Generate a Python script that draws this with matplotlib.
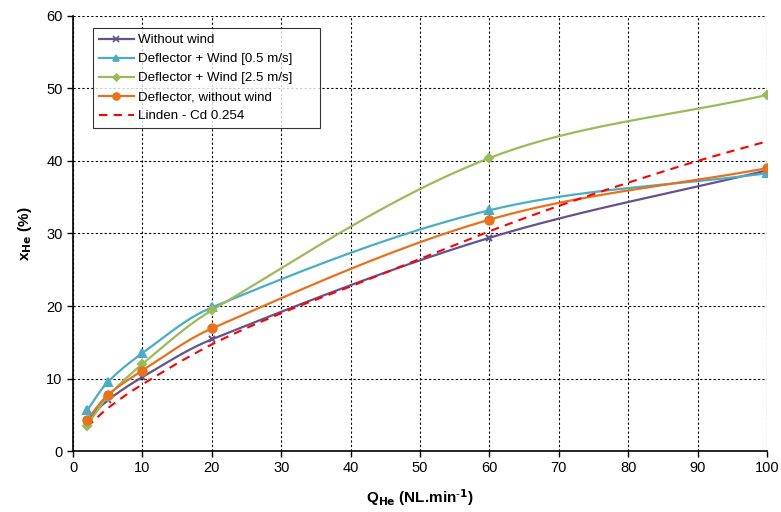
"""Helium concentration against helium flow rate, with and without a
deflector and cross wind, compared with the Linden model."""

import numpy as np
import matplotlib
matplotlib.use("Agg")
import matplotlib.pyplot as plt

# ----------------------------------------------------------------------
# Data
# ----------------------------------------------------------------------

q_measured = [2, 5, 10, 20, 60, 100]

x_without_wind = [4.3, 7.0, 10.2, 15.4, 29.4, 38.7]
x_deflector_wind_05 = [5.6, 9.5, 13.5, 19.8, 33.2, 38.3]
x_deflector_wind_25 = [3.5, 7.5, 12.0, 19.4, 40.4, 49.1]
x_deflector_no_wind = [4.3, 7.7, 11.1, 16.9, 31.9, 39.0]

q_linden = [2, 5, 10, 20, 30, 40, 50, 60, 70, 80, 90, 100]
x_linden = [3.3, 5.9, 9.2, 14.7, 19.0, 22.7, 26.5, 30.3, 33.8, 37.0, 40.0, 42.7]

labels = [
    "Without wind",
    "Deflector + Wind [0.5 m/s]",
    "Deflector + Wind [2.5 m/s]",
    "Deflector, without wind",
]

# ----------------------------------------------------------------------
# Style
# ----------------------------------------------------------------------

plt.rcParams["font.family"] = ["Liberation Sans", "DejaVu Sans"]
plt.rcParams["mathtext.default"] = "regular"

COLORS = ["#65528C", "#4BACC6", "#9BBB59", "#E8711C"]
MARKERS = ["x", "^", "D", "o"]
MARKER_SIZES = [5, 6, 4.5, 6]


def smooth_curve(xs, ys, steps=40):
    """Bezier smoothing through the points (spreadsheet style smoothed line).

    Tangent directions come from the neighbouring points, control arms are
    a third of the segment length so unevenly spaced points stay tidy."""
    pts = np.column_stack([xs, ys]).astype(float)
    n = len(pts)
    tangents = np.zeros_like(pts)
    for i in range(n):
        lo, hi = max(i - 1, 0), min(i + 1, n - 1)
        d = pts[hi] - pts[lo]
        tangents[i] = d / np.hypot(*d)
    out = []
    t = np.linspace(0, 1, steps)[:, None]
    for i in range(n - 1):
        p1, p2 = pts[i], pts[i + 1]
        arm = np.hypot(*(p2 - p1)) / 3.0
        c1 = p1 + tangents[i] * arm
        c2 = p2 - tangents[i + 1] * arm
        seg = ((1 - t) ** 3) * p1 + 3 * ((1 - t) ** 2) * t * c1 \
            + 3 * (1 - t) * t ** 2 * c2 + t ** 3 * p2
        out.append(seg if i == 0 else seg[1:])
    curve = np.vstack(out)
    return curve[:, 0], curve[:, 1]


fig = plt.figure(figsize=(7.81, 5.12), dpi=100)
ax = fig.add_axes([0.0935, 0.119, 0.8885, 0.85])

series = [x_without_wind, x_deflector_wind_05, x_deflector_wind_25, x_deflector_no_wind]
for vals, label, color, marker, ms in zip(series, labels, COLORS, MARKERS, MARKER_SIZES):
    sx, sy = smooth_curve(q_measured, vals)
    ax.plot(sx, sy, color=color, lw=1.6, zorder=3)
    ax.plot(q_measured, vals, linestyle="none", marker=marker, ms=ms,
            color=color, mew=1.5, zorder=4)
    # proxy artist for the legend entry (line + marker)
    ax.plot([], [], color=color, lw=1.6, marker=marker, ms=ms - 1, mew=1.2, label=label)

lx, ly = smooth_curve(q_linden, x_linden)
ax.plot(lx, ly, color="#FF0000", lw=1.5, linestyle=(0, (4, 3)), zorder=3,
        label="Linden - Cd 0.254")

ax.set_xlim(0, 100)
ax.set_ylim(0, 60)
ax.set_xticks(range(0, 101, 10))
ax.set_yticks(range(0, 61, 10))
ax.tick_params(labelsize=10.5, direction="out", length=4, width=1, color="black")

ax.grid(True, color="black", linestyle=(0, (2, 2)), lw=0.8)
ax.set_axisbelow(True)
for side in ["top", "right"]:
    ax.spines[side].set_visible(False)
for side in ["left", "bottom"]:
    ax.spines[side].set_linewidth(1.2)

ax.set_xlabel(r"Q$_{\mathbf{He}}$ (NL.min$^{\mathbf{\text{-}1}}$)", fontsize=11,
              fontweight="bold", labelpad=8)
ax.set_ylabel(r"x$_{\mathbf{He}}$ (%)", fontsize=11, fontweight="bold", labelpad=9)

leg = ax.legend(loc="upper left", bbox_to_anchor=(0.029, 0.5, 0.327, 0.472),
                mode="expand", borderaxespad=0,
                fontsize=9.6, frameon=True, fancybox=False, edgecolor="black",
                handlelength=2.6, borderpad=0.45, labelspacing=0.5,
                handletextpad=0.3)
leg.get_frame().set_linewidth(0.8)

fig.savefig("out.png", dpi=100)
